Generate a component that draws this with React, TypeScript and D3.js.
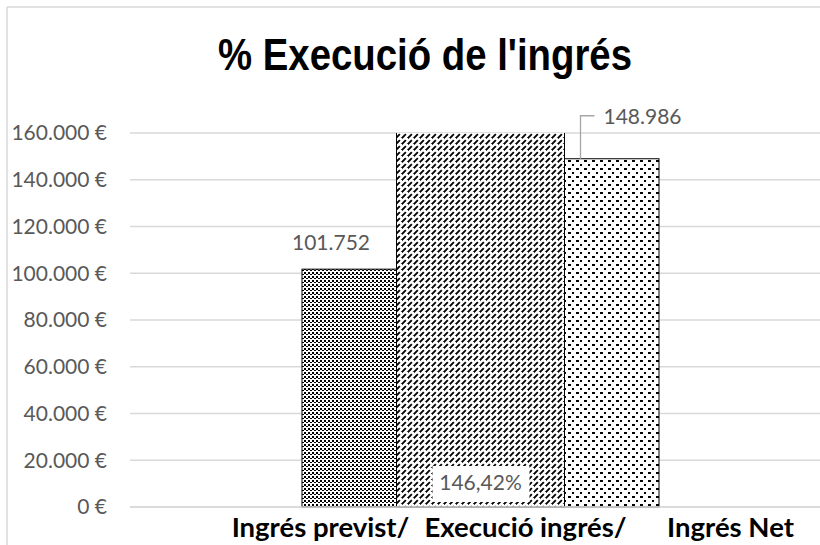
import React from "react";
import * as d3 from "d3";

// ---- data ----
const categories = ["Ingrés previst/", "Execució ingrés/", "Ingrés Net"];
const primarySeries = ["Ingrés previst", "Ingrés Net"];
const primaryValues = [101752, 148986];
const secondarySeries = ["Execució ingrés"];
const secondaryValues = [1.4642];
const yTicks = [0, 20000, 40000, 60000, 80000, 100000, 120000, 140000, 160000];
const title = "% Execució de l'ingrés";

// ---- layout ----
const W = 820;
const H = 545;
const plotTop = 133;
const plotBottom = 507;
const gridLeft = 130;
const clusterLeft = 302;
const clusterRight = 659;
const secondaryWidth = 168;

const locale = d3.formatLocale({
  decimal: ",",
  thousands: ".",
  grouping: [3],
  currency: ["", " €"],
  percent: "%",
});
const fmtEuro = locale.format("$,.0f");
const fmtNum = locale.format(",.0f");
const fmtPct = locale.format(".2%");

const labelFont = "Lato, 'Open Sans', sans-serif";
const grid = "#d9d9d9";
const textGrey = "#595959";

export default function App() {
  const y = d3.scaleLinear().domain([0, 160000]).range([plotBottom, plotTop]);
  const y2 = d3.scaleLinear().domain([0, 1.4]).range([plotBottom, plotTop]);
  const xPrimary = d3
    .scaleBand<string>()
    .domain(primarySeries)
    .range([clusterLeft, clusterRight])
    .padding(0);
  const center = (clusterLeft + clusterRight) / 2;
  const xSecondary = d3
    .scaleBand<string>()
    .domain(secondarySeries)
    .range([center - secondaryWidth / 2, center + secondaryWidth / 2])
    .padding(0);
  const xCat = d3.scaleBand<string>().domain(categories).range([218, 833]);

  const patterns = ["patPrevist", "patNet"];

  return (
    <svg
      width={W}
      height={H}
      style={{ position: "absolute", left: 0, top: 0, background: "#fff" }}
    >
      <defs>
        <pattern id="patPrevist" width={4} height={4} patternUnits="userSpaceOnUse">
          <g shapeRendering="crispEdges">
            <rect width={4} height={4} fill="#fff" />
            <rect x={0} y={0} width={2} height={2} fill="#000" />
            <rect x={2} y={2} width={2} height={1} fill="#000" />
          </g>
        </pattern>
        <pattern id="patExec" width={6} height={6} patternUnits="userSpaceOnUse">
          <rect width={6} height={6} fill="#fff" />
          <line
            x1={0}
            y1={6}
            x2={6}
            y2={0}
            stroke="#000"
            strokeWidth={1.9}
            strokeDasharray="5.4 3.09"
          />
          <line x1={-1} y1={1} x2={1} y2={-1} stroke="#000" strokeWidth={1.9} />
          <line x1={5} y1={7} x2={7} y2={5} stroke="#000" strokeWidth={1.9} />
        </pattern>
        <pattern id="patNet" width={8} height={8} patternUnits="userSpaceOnUse">
          <g shapeRendering="crispEdges">
            <rect width={8} height={8} fill="#fff" />
            <rect x={0} y={0} width={3} height={2} fill="#000" />
            <rect x={4} y={4} width={2} height={2} fill="#000" />
          </g>
        </pattern>
        <clipPath id="plotClip">
          <rect x={0} y={plotTop} width={W} height={plotBottom - plotTop + 2} />
        </clipPath>
      </defs>

      {/* chart frame */}
      <line x1={7} y1={7} x2={W} y2={7} stroke={grid} strokeWidth={1.5} />
      <line x1={7} y1={7} x2={7} y2={H} stroke={grid} strokeWidth={1.5} />

      {/* title */}
      <text
        x={425}
        y={70}
        textAnchor="middle"
        fontFamily="'Liberation Sans Narrow', 'Arial Narrow', 'Liberation Sans', Arial, sans-serif"
        fontWeight="bold"
        fontSize={44}
        textLength={414}
        lengthAdjust="spacingAndGlyphs"
        fill="#000"
      >
        {title}
      </text>

      {/* gridlines */}
      {yTicks.map((t) => (
        <line
          key={t}
          x1={gridLeft}
          x2={W}
          y1={y(t)}
          y2={y(t)}
          stroke={grid}
          strokeWidth={1.5}
        />
      ))}

      {/* y tick labels */}
      {yTicks.map((t) => (
        <text
          key={"l" + t}
          x={107}
          y={y(t)}
          dy="0.35em"
          textAnchor="end"
          fontFamily={labelFont}
          fontSize={21}
          fill={textGrey}
        >
          {fmtEuro(t)}
        </text>
      ))}

      {/* bars */}
      <g clipPath="url(#plotClip)">
        {primarySeries.map((s, i) => (
          <rect
            key={s}
            x={xPrimary(s)}
            y={y(primaryValues[i])}
            width={xPrimary.bandwidth()}
            height={plotBottom - y(primaryValues[i])}
            fill={`url(#${patterns[i]})`}
            stroke="#000"
            strokeWidth={1}
          />
        ))}
        {secondarySeries.map((s, i) => (
          <rect
            key={s}
            x={xSecondary(s)}
            y={y2(secondaryValues[i])}
            width={xSecondary.bandwidth()}
            height={plotBottom - y2(secondaryValues[i])}
            fill="url(#patExec)"
            stroke="#000"
            strokeWidth={1}
          />
        ))}
      </g>

      {/* axis line */}
      <line
        x1={gridLeft}
        x2={W}
        y1={plotBottom}
        y2={plotBottom}
        stroke={grid}
        strokeWidth={1.5}
      />

      {/* data labels */}
      <text
        x={(xPrimary(primarySeries[0]) as number) + 29}
        y={y(primaryValues[0]) - 27}
        dy="0.35em"
        textAnchor="middle"
        fontFamily={labelFont}
        fontSize={21}
        fill={textGrey}
      >
        {fmtNum(primaryValues[0])}
      </text>

      {/* leader line + label for Net */}
      <path
        d={`M${(xPrimary(primarySeries[1]) as number) + 100},${y(primaryValues[1])} V${
          y(primaryValues[1]) - 43
        } H${(xPrimary(primarySeries[1]) as number) + 114}`}
        fill="none"
        stroke="#a6a6a6"
        strokeWidth={1.3}
      />
      <text
        x={(xPrimary(primarySeries[1]) as number) + 123}
        y={y(primaryValues[1]) - 42}
        dy="0.35em"
        textAnchor="start"
        fontFamily={labelFont}
        fontSize={21}
        fill={textGrey}
      >
        {fmtNum(primaryValues[1])}
      </text>

      {/* percent label inside middle bar */}
      {secondarySeries.map((s, i) => {
        const cx = (xSecondary(s) as number) + xSecondary.bandwidth() / 2;
        return (
          <g key={"p" + s}>
            <rect x={cx - 48} y={plotBottom - 41} width={97} height={36} fill="#fff" />
            <text
              x={cx}
              y={plotBottom - 24}
              dy="0.35em"
              textAnchor="middle"
              fontFamily={labelFont}
              fontSize={21}
              fill={textGrey}
            >
              {fmtPct(secondaryValues[i])}
            </text>
          </g>
        );
      })}

      {/* category labels */}
      {categories.map((c) => (
        <text
          key={c}
          x={(xCat(c) as number) + xCat.bandwidth() / 2}
          y={537}
          textAnchor="middle"
          fontFamily={labelFont}
          fontWeight="bold"
          fontSize={27.5}
          fill="#000"
        >
          {c}
        </text>
      ))}
    </svg>
  );
}
